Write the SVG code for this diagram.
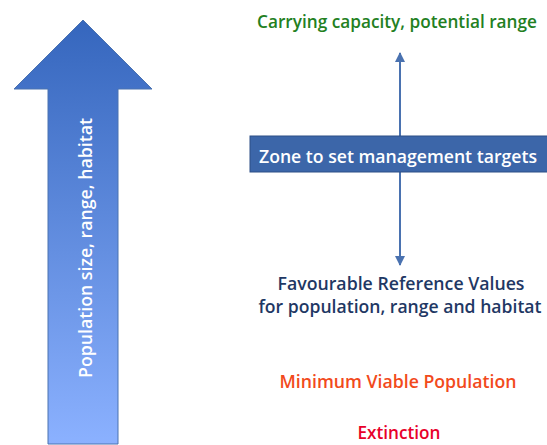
<svg xmlns="http://www.w3.org/2000/svg" width="547" height="445" viewBox="0 0 547 445">
<style>
text{font-family:"Open Sans","Liberation Sans",sans-serif;font-size:17.5px;font-weight:600;text-anchor:middle}
.conn{stroke:#4a72b0;stroke-width:2;fill:none}
</style>
<defs>
<linearGradient id="g" x1="0" y1="0" x2="0" y2="1">
<stop offset="0" stop-color="#3566bd"/>
<stop offset="1" stop-color="#8bb1ff"/>
</linearGradient>
<marker id="ah" viewBox="0 0 10 10" refX="9" refY="5" markerWidth="5" markerHeight="5" orient="auto">
<path d="M0,0 L10,5 L0,10 z" fill="#4a72b0"/>
</marker>
</defs>
<g id="bigArrow">
<path d="M83,20 L152,89 L118,89 L118,444 L48,444 L48,89 L14,89 Z" fill="url(#g)" stroke="#4a72b0" stroke-width="1"/>
<text transform="translate(92,248) rotate(-90)" fill="#ffffff" font-weight="500" textLength="260" lengthAdjust="spacingAndGlyphs">Population size, range, habitat</text>
</g>
<g id="connectors">
<line class="conn" x1="400" y1="137" x2="400" y2="53" marker-end="url(#ah)"/>
<line class="conn" x1="400" y1="172" x2="400" y2="265" marker-end="url(#ah)"/>
</g>
<g id="carrying">
<text x="397" y="28" fill="#23801f" textLength="280" lengthAdjust="spacingAndGlyphs">Carrying capacity, potential range</text>
</g>
<g id="zone">
<rect x="250" y="136" width="300" height="36" fill="#3c66a9" stroke="#2c4f86" stroke-width="1"/>
<text x="398" y="163" fill="#ffffff" textLength="278" lengthAdjust="spacingAndGlyphs">Zone to set management targets</text>
</g>
<g id="frv">
<text x="401" y="290" fill="#1f3864" textLength="247" lengthAdjust="spacingAndGlyphs">Favourable Reference Values</text>
<text x="400" y="313" fill="#1f3864" textLength="283" lengthAdjust="spacingAndGlyphs">for population, range and habitat</text>
</g>
<g id="mvp">
<text x="398" y="388" fill="#f24a1c" textLength="237" lengthAdjust="spacingAndGlyphs">Minimum Viable Population</text>
</g>
<g id="extinction">
<text x="399" y="439" fill="#e8002a" textLength="83" lengthAdjust="spacingAndGlyphs">Extinction</text>
</g>
</svg>
